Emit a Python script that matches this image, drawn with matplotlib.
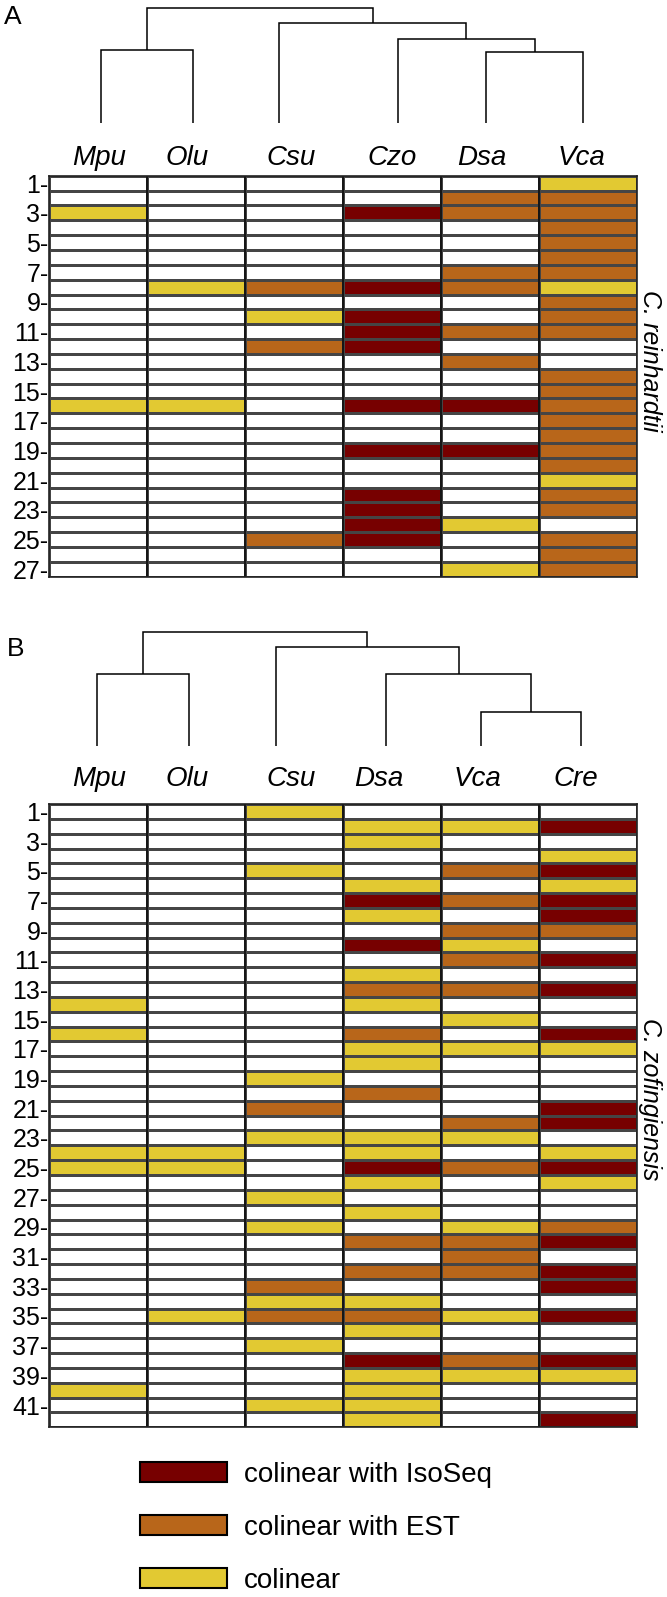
import numpy as np
import matplotlib
matplotlib.use("Agg")
import matplotlib.pyplot as plt
from matplotlib.colors import ListedColormap, BoundaryNorm
from matplotlib.patches import Patch

plt.rcParams['font.family'] = ['Liberation Sans', 'DejaVu Sans']

# codes: 0 none, 1 colinear, 2 colinear with EST, 3 colinear with IsoSeq
species_a = ['Mpu', 'Olu', 'Csu', 'Czo', 'Dsa', 'Vca']
rows_a = ["000001", "000022", "100322", "000002", "000002", "000002",
          "000022", "012321", "000002", "001302", "000322", "002300",
          "000020", "000002", "000002", "110332", "000002", "000002",
          "000332", "000002", "000001", "000302", "000302", "000310",
          "002302", "000002", "000012"]

species_b = ['Mpu', 'Olu', 'Csu', 'Dsa', 'Vca', 'Cre']
rows_b = ["001000", "000113", "000100", "000001", "001023", "000101",
          "000323", "000103", "000022", "000310", "000023", "000100",
          "000223", "100100", "000010", "100203", "000111", "000100",
          "001000", "000200", "002003", "000023", "001110", "110101",
          "110323", "000101", "001000", "000100", "001012", "000223",
          "000020", "000223", "002003", "001100", "012213", "000100",
          "001000", "000323", "000111", "100100", "001100", "000103"]

# dendrograms: (height, left, right)
tree_a = (114.7, (73, 'Mpu', 'Olu'), (99.7, 'Csu', (84, 'Czo', (71.3, 'Dsa', 'Vca'))))
tree_b = (114, (71.7, 'Mpu', 'Olu'), (98.7, 'Csu', (71.4, 'Dsa', (34, 'Vca', 'Cre'))))

legend_labels = ['colinear with IsoSeq', 'colinear with EST', 'colinear']
colors = ['white', '#E2C932', '#B8661A', '#770000']

W, H = 667, 1597
fig = plt.figure(figsize=(W / 100, H / 100), dpi=100)


def box(x0, y0, x1, y1):
    return [x0 / W, 1 - y1 / H, (x1 - x0) / W, (y1 - y0) / H]


cmap = ListedColormap(colors)
norm = BoundaryNorm([-0.5, 0.5, 1.5, 2.5, 3.5], 4)


def heatmap(rect, rows, species, label_x, side_label, side_y, label_y):
    data = np.array([[int(c) for c in r] for r in rows])
    n = len(rows)
    ax = fig.add_axes(rect)
    ax.pcolormesh(np.arange(len(species) + 1), np.arange(n + 1), data,
                  cmap=cmap, norm=norm, edgecolors='#454545', linewidth=0.8)
    ax.vlines(np.arange(1, len(species)), 0, n, color='#111111', lw=1.3)
    ax.set_xlim(0, len(species))
    ax.set_ylim(n, 0)
    ax.set_xticks([])
    ax.set_yticks(np.arange(0, n, 2) + 0.5)
    ax.set_yticklabels([f"{i}-" for i in range(1, n + 1, 2)])
    ax.tick_params(axis='y', length=0, pad=0.5, labelsize=18)
    for s in ax.spines.values():
        s.set_linewidth(1.2)
        s.set_color('#222222')
    for name, x in zip(species, label_x):
        ax.text(x, label_y, name, ha='center', va='center',
                fontsize=20, fontstyle='italic')
    ax.text(6.13, side_y, side_label, rotation=270, ha='center', va='center',
            fontsize=18, fontstyle='italic')
    return ax


def draw_tree(ax, node, leaf_x):
    if isinstance(node, str):
        return leaf_x[node], 0
    h, left, right = node
    xl, hl = draw_tree(ax, left, leaf_x)
    xr, hr = draw_tree(ax, right, leaf_x)
    ax.plot([xl, xl, xr, xr], [hl, h, h, hr], color='black', lw=1.1,
            solid_joinstyle='miter', solid_capstyle='butt')
    return (xl + xr) / 2, h


def dendro(rect, tree, species, leaf_pos):
    ax = fig.add_axes(rect)
    leaf_x = dict(zip(species, leaf_pos))
    draw_tree(ax, tree, leaf_x)
    ax.set_xlim(0, len(species))
    ax.set_ylim(0, tree[0])
    ax.axis('off')
    for ln in ax.lines:
        ln.set_clip_on(False)


# panel A
heatmap(box(49.4, 175.7, 637, 576.7), rows_a, species_a,
        [0.51, 1.41, 2.47, 3.5, 4.41, 5.43], 'C. reinhardtii', 12.48, -1.2)
dendro(box(49.4, 8.3, 637, 123), tree_a, species_a,
       [0.527, 1.467, 2.345, 3.56, 4.46, 5.45])

# panel B
heatmap(box(49.4, 804, 637, 1427.3), rows_b, species_b,
        [0.51, 1.41, 2.47, 3.36, 4.37, 5.37], 'C. zofingiensis', 19.9, -1.7)
dendro(box(49.4, 631.7, 637, 745.7), tree_b, species_b,
       [0.49, 1.43, 2.31, 3.44, 4.41, 5.43])

fig.text(12.5 / W, 1 - 16.5 / H, 'A', fontsize=19, ha='center', va='center')
fig.text(16 / W, 1 - 649 / H, 'B', fontsize=19, ha='center', va='center')

handles = [Patch(facecolor=c, edgecolor='black', linewidth=1.5)
           for c in colors[3:0:-1]]
fig.legend(handles, legend_labels, loc='upper left',
           bbox_to_anchor=(140 / W, 1 - 1462 / H), frameon=False,
           fontsize=20, handlelength=3.13, handleheight=0.72,
           handletextpad=0.61, labelspacing=0.97, borderpad=0,
           borderaxespad=0)

fig.savefig('out.png', dpi=100)
